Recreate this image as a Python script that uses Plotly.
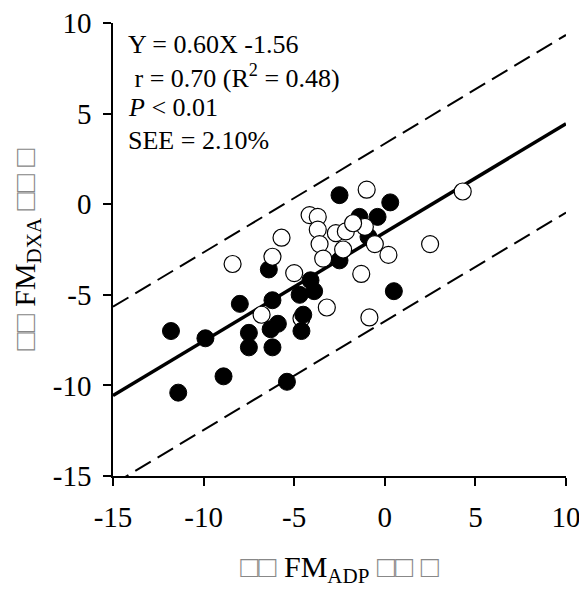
import plotly.graph_objects as go

# Filled circles
filled_x = [-11.8, -11.4, -9.9, -8.0, -8.9, -7.5, -7.5, -6.2, -6.2, -6.4, -6.3, -5.9, -5.4,
            -4.7, -4.1, -3.9, -4.5, -4.6, -2.5, -2.5, 0.3, -0.4, -1.4, -0.9, 0.5]
filled_y = [-7.0, -10.4, -7.4, -5.5, -9.5, -7.1, -7.9, -5.3, -7.9, -3.6, -6.9, -6.6, -9.8,
            -5.0, -4.2, -4.8, -6.1, -7.0, 0.5, -3.1, 0.1, -0.7, -0.7, -1.8, -4.8]

# Open circles
open_x = [-8.4, -6.2, -5.7, -5.0, -6.8, -4.15, -3.7, -3.7, -3.6, -3.4, -2.7, -2.15, -2.3,
          -3.2, -4.6, -1.0, 4.3, -1.1, -1.75, -0.55, 0.2, 2.5, -1.3, -0.85]
open_y = [-3.3, -2.9, -1.85, -3.8, -6.1, -0.6, -0.7, -1.4, -2.2, -3.0, -1.6, -1.5, -2.5,
          -5.7, -6.3, 0.8, 0.7, -1.25, -1.05, -2.2, -2.8, -2.2, -3.85, -6.25]
open_behind = [14]  # open points drawn beneath the filled ones

# Regression and limits
slope = 0.60
intercept = -1.56
band = 4.9
x_range = [-15, 10]
y_range = [-15, 10]
tick_vals = [-15, -10, -5, 0, 5, 10]
tick_text = ["-15", "-10", "-5", "0", "5", "10"]

stats_lines = ["Y = 0.60X -1.56", " r = 0.70 (R<sup>2</sup> = 0.48)", "<i>P</i> < 0.01", "SEE = 2.10%"]

FONT = "Liberation Serif, Times New Roman, serif"
# page has an 8px body margin, so the figure is sized to fit inside the window
W, H = 579, 589
ML, MR, MT, MB = 105, 21, 15, 121
PW = W - ML - MR
PH = H - MT - MB

fig = go.Figure()

line_x = x_range
fit_y = [slope * v + intercept for v in line_x]
dash_style = dict(color="black", width=2, dash="18px,8px")
fig.add_trace(go.Scatter(x=line_x, y=[v + band for v in fit_y], mode="lines",
                         line=dash_style, showlegend=False))
fig.add_trace(go.Scatter(x=line_x, y=[v - band for v in fit_y], mode="lines",
                         line=dash_style, showlegend=False))
fig.add_trace(go.Scatter(x=line_x, y=fit_y, mode="lines",
                         line=dict(color="black", width=3.5), showlegend=False))

open_style = dict(size=17, color="white", line=dict(color="black", width=1.2))
fig.add_trace(go.Scatter(x=[open_x[i] for i in open_behind], y=[open_y[i] for i in open_behind],
                         mode="markers", marker=open_style, showlegend=False))
fig.add_trace(go.Scatter(x=filled_x, y=filled_y, mode="markers",
                         marker=dict(size=17, color="black", line=dict(color="black", width=1)),
                         showlegend=False))
rest = [i for i in range(len(open_x)) if i not in open_behind]
fig.add_trace(go.Scatter(x=[open_x[i] for i in rest], y=[open_y[i] for i in rest],
                         mode="markers", marker=open_style, showlegend=False))

box = "<span style='color:#888'>□□</span>"
box1 = "<span style='color:#888'>□</span>"

axis_common = dict(tickvals=tick_vals, ticktext=tick_text, showgrid=False, zeroline=False,
                   showline=True, linecolor="black", linewidth=1.5, ticks="outside",
                   ticklen=8, tickwidth=1.5, tickcolor="black", automargin=False,
                   ticklabeloverflow="allow",
                   tickfont=dict(size=29, family=FONT, color="black"))

annotations = []
line_px = [36, 68, 100, 132]  # vertical centres of the text lines within the figure
for txt, py in zip(stats_lines, line_px):
    annotations.append(dict(text=txt, xref="paper", yref="paper",
                            x=(118 - ML) / PW, y=1 - (py - MT) / PH,
                            xanchor="left", yanchor="middle", align="left",
                            showarrow=False, font=dict(size=26, family=FONT, color="black")))

fig.update_layout(
    width=W, height=H,
    margin=dict(l=ML, r=MR, t=MT, b=MB),
    plot_bgcolor="white", paper_bgcolor="white",
    font=dict(family=FONT, color="black", size=28),
    xaxis=dict(range=x_range, ticklabelstandoff=6,
               title=dict(text=box + " FM<sub>ADP</sub> " + box + " " + box1,
                          font=dict(size=30, family=FONT), standoff=24),
               **axis_common),
    yaxis=dict(range=y_range, ticklabelstandoff=6,
               title=dict(text=box + " FM<sub>DXA</sub> " + box + " " + box1,
                          font=dict(size=30, family=FONT), standoff=10),
               **axis_common),
    annotations=annotations,
)

fig.write_html("out.html")
